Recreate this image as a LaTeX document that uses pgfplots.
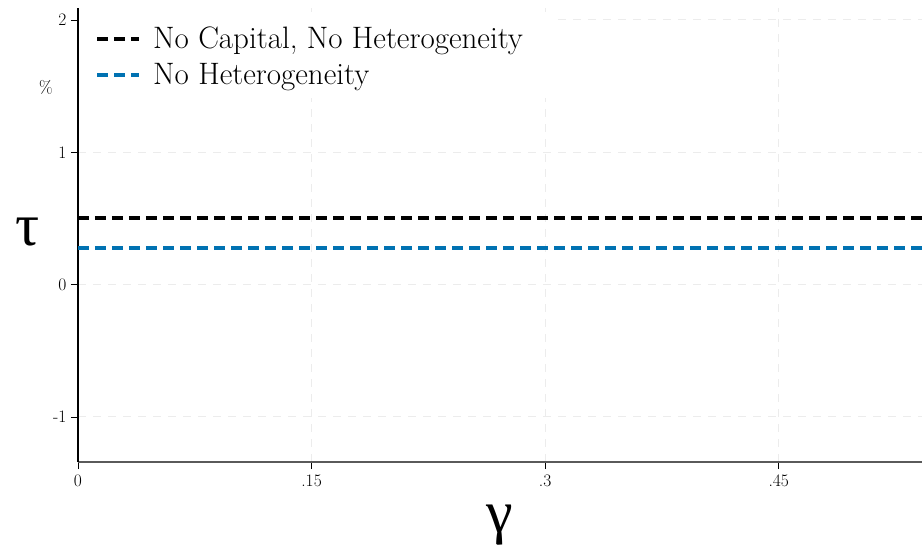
\RequirePackage{fix-cm}
\documentclass[border=0pt]{standalone}
\usepackage{fontspec}
\newfontfamily\greekfont{Liberation Serif}
\usepackage{pgfplots}
\pgfplotsset{compat=1.18}
\definecolor{sblue}{RGB}{0,114,178}
\definecolor{gridc}{RGB}{236,236,236}
\begin{document}
\begin{tikzpicture}
\begin{axis}[
  at={(0,0)}, anchor=south west,
  scale only axis, width=844pt, height=454pt,
  xmin=0, xmax=0.542, ymin=-1.34, ymax=2.09,
  clip=false,
  axis x line*=bottom, axis y line*=left,
  x axis line style={draw={rgb,255:red,90;green,90;blue,90}, line width=1.6pt},
  y axis line style={black, line width=1.1pt},
  xtick={0,0.15,0.3,0.45}, xticklabels={0,.15,.3,.45},
  ytick={-1,0,1,2}, yticklabels={-1,0,1,2},
  tick align=outside, major tick length=7pt,
  tick style={black, line width=0.8pt},
  ticklabel style={font=\fontsize{17.5}{20}\selectfont},
  xticklabel style={yshift=-2pt},
  yticklabel style={xshift=-1pt},
  grid=major,
  major grid style={gridc, line width=1pt, dash pattern=on 8pt off 7pt},
  xlabel={γ},
  xlabel style={font=\fontsize{60}{60}\selectfont\greekfont, at={(axis description cs:0.5,0)}, anchor=center, yshift=-63pt},
  ylabel={τ},
  ylabel style={font=\fontsize{60}{60}\selectfont\greekfont, rotate=-90, at={(axis description cs:0,0.507)}, anchor=center, xshift=-50pt},
  legend style={at={(axis description cs:0,1)}, anchor=north west, xshift=1pt, yshift=-7pt,
    draw=none, fill=white, inner xsep=16pt, inner ysep=10pt,
    font=\fontsize{31}{35}\selectfont, row sep=9pt},
  legend cell align=left,
  legend image code/.code={\draw[#1] (0pt,0pt) -- (42pt,0pt); \path (52pt,0pt);},
]
\addplot[black, line width=4pt, dash pattern=on 11pt off 6pt] coordinates {(0,0.5) (0.15,0.5) (0.3,0.5) (0.45,0.5) (0.542,0.5)};
\addlegendentry{No Capital, No Heterogeneity\hspace*{10pt}}
\addplot[sblue, line width=4pt, dash pattern=on 11pt off 6pt] coordinates {(0,0.28) (0.15,0.28) (0.3,0.28) (0.45,0.28) (0.542,0.28)};
\addlegendentry{No Heterogeneity}
\node[font=\fontsize{17.5}{20}\selectfont, anchor=center] at (rel axis cs:0,0.825) [xshift=-32pt] {\%};
\end{axis}
\pgfresetboundingbox
\path[use as bounding box] (-78pt,-93pt) rectangle (846pt,462pt);
\end{tikzpicture}
\end{document}
